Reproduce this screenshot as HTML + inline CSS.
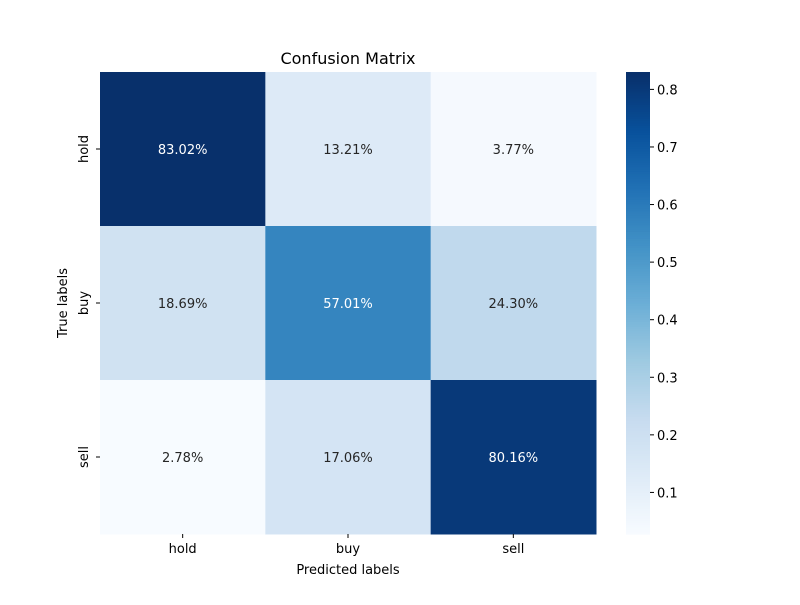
<!DOCTYPE html>
<html><head><meta charset="utf-8"><style>
body{margin:0;background:#fff;font-family:"Liberation Sans","DejaVu Sans",sans-serif}
</style></head><body>
<svg id="chart" width="800" height="600" xmlns="http://www.w3.org/2000/svg" font-family="DejaVu Sans, Liberation Sans, sans-serif">
<text x="348" y="64" text-anchor="middle" font-size="16" fill="#000">Confusion Matrix</text>
<text x="348" y="574" text-anchor="middle" font-size="13" fill="#000">Predicted labels</text>
<text transform="translate(67,303) rotate(-90)" text-anchor="middle" font-size="13" fill="#000">True labels</text>
<g id="cells"></g>
<g id="cbar"></g>
</svg>
<script>
const predLabels=["hold","buy","sell"];
const trueLabels=["hold","buy","sell"];
const row0=[0.8302,0.1321,0.0377];
const row1=[0.1869,0.5701,0.2430];
const row2=[0.0278,0.1706,0.8016];
const cbTicks=[0.1,0.2,0.3,0.4,0.5,0.6,0.7,0.8];
const values=[row0,row1,row2];
const NS="http://www.w3.org/2000/svg";
const svg=document.getElementById('chart');
const X0=100,X1=596,Y0=72,Y1=534;
const all=values.flat();
const vmin=Math.min(...all),vmax=Math.max(...all);
const stops=["#f7fbff","#deebf7","#c6dbef","#9ecae1","#6baed6","#4292c6","#2171b5","#08519c","#08306b"].map(h=>[1,3,5].map(i=>parseInt(h.substr(i,2),16)));
function cmap(t){t=Math.max(0,Math.min(1,t));const p=t*8,i=Math.min(7,Math.floor(p)),f=p-i;const c=stops[i].map((v,k)=>Math.round(v+(stops[i+1][k]-v)*f));return {s:`rgb(${c[0]},${c[1]},${c[2]})`,c};}
function mk(tag,attrs,parent){const e=document.createElementNS(NS,tag);for(const k in attrs)e.setAttribute(k,attrs[k]);(parent||svg).appendChild(e);return e;}
const cw=(X1-X0)/predLabels.length,ch=(Y1-Y0)/trueLabels.length;
const xS=j=>X0+j*cw, yS=i=>Y0+i*ch;
const cells=document.getElementById('cells');
values.forEach((row,i)=>row.forEach((v,j)=>{
 const col=cmap((v-vmin)/(vmax-vmin));
 const r=mk('rect',{x:xS(j),y:yS(i),width:cw+0.5,height:ch+0.5,fill:col.s},cells);
 
 
 const lum=0.299*col.c[0]+0.587*col.c[1]+0.114*col.c[2];
 const t=mk('text',{x:xS(j)+cw/2,y:yS(i)+ch/2+5,'text-anchor':'middle','font-size':13,fill:lum<128?'#fff':'#262626'},cells);
 t.textContent=(v*100).toFixed(2)+'%';
 
 
}));
predLabels.forEach((l,j)=>{
 mk('line',{x1:xS(j)+cw/2,x2:xS(j)+cw/2,y1:Y1,y2:Y1+4,stroke:'#000'});
 const t=mk('text',{x:xS(j)+cw/2,y:Y1+19,'text-anchor':'middle','font-size':13});
 t.textContent=l;
 
 
});
trueLabels.forEach((l,i)=>{
 const yc=yS(i)+ch/2;
 mk('line',{x1:X0-4,x2:X0,y1:yc,y2:yc,stroke:'#000'});
 const t=mk('text',{transform:`translate(${X0-12},${yc}) rotate(-90)`,'text-anchor':'middle','font-size':13});
 t.textContent=l;
 
 
});
const cb=document.getElementById('cbar');
const CX=626,CW=24,N=200;
for(let k=0;k<N;k++){
 const v=vmin+(vmax-vmin)*(k/(N-1));
 mk('rect',{x:CX,y:Y1-(k+1)*(Y1-Y0)/N,width:CW,height:(Y1-Y0)/N+0.6,fill:cmap(k/(N-1)).s},cb);
}
const cyS=v=>Y1-(v-vmin)/(vmax-vmin)*(Y1-Y0);
cbTicks.forEach(v=>{
 const y=cyS(v);
 mk('line',{x1:CX+CW,x2:CX+CW+4,y1:y,y2:y,stroke:'#000'},cb);
 const t=mk('text',{x:CX+CW+7,y:y+5,'font-size':13},cb);
 t.textContent=v.toFixed(1);
 
 
});


</script>
</body></html>
